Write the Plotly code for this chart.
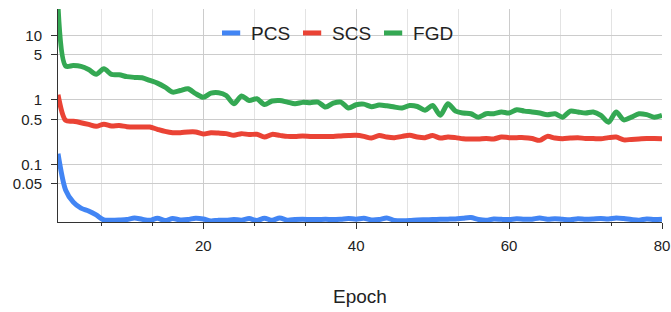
import plotly.graph_objects as go

epochs = list(range(1, 81))

pcs = [0.147, 0.040, 0.026, 0.021, 0.019, 0.0165, 0.0138, 0.0137, 0.0138, 0.0140,
       0.0148, 0.0141, 0.0136, 0.0147, 0.0135, 0.0145, 0.0138, 0.0140, 0.0147, 0.0143,
       0.0133, 0.0137, 0.0136, 0.0140, 0.0137, 0.0145, 0.0135, 0.0147, 0.0136, 0.0148,
       0.0137, 0.0140, 0.0141, 0.0140, 0.0140, 0.0141, 0.0140, 0.0142, 0.0145, 0.0142,
       0.0147, 0.0138, 0.0140, 0.0148, 0.0136, 0.0134, 0.0135, 0.0138, 0.0139, 0.0140,
       0.0141, 0.0142, 0.0143, 0.0147, 0.0150, 0.0140, 0.0136, 0.0143, 0.0141, 0.0140,
       0.0144, 0.0141, 0.0142, 0.0148, 0.0142, 0.0144, 0.0141, 0.0139, 0.0144, 0.0142,
       0.0143, 0.0145, 0.0143, 0.0148, 0.0145, 0.0140, 0.0137, 0.0143, 0.0140, 0.0141]

scs = [1.2, 0.48, 0.465, 0.443, 0.417, 0.39, 0.42, 0.393, 0.40, 0.385,
       0.38, 0.38, 0.38, 0.35, 0.325, 0.31, 0.31, 0.318, 0.318, 0.296,
       0.31, 0.306, 0.30, 0.282, 0.30, 0.29, 0.294, 0.266, 0.292, 0.282,
       0.272, 0.272, 0.276, 0.272, 0.27, 0.27, 0.272, 0.276, 0.28, 0.282,
       0.272, 0.256, 0.28, 0.266, 0.26, 0.272, 0.282, 0.266, 0.26, 0.28,
       0.256, 0.266, 0.26, 0.25, 0.248, 0.248, 0.252, 0.248, 0.266, 0.26,
       0.26, 0.26, 0.252, 0.236, 0.272, 0.256, 0.25, 0.256, 0.26, 0.252,
       0.252, 0.25, 0.26, 0.266, 0.24, 0.244, 0.248, 0.252, 0.252, 0.25]

fgd = [28.0, 3.35, 3.4, 3.3, 2.96, 2.5, 3.04, 2.48, 2.45, 2.29,
       2.23, 2.2, 2.0, 1.82, 1.58, 1.32, 1.40, 1.49, 1.25, 1.10,
       1.27, 1.29, 1.17, 0.87, 1.15, 0.98, 1.04, 0.85, 0.96, 0.98,
       0.925, 0.87, 0.915, 0.905, 0.925, 0.774, 0.89, 0.925, 0.746, 0.84,
       0.86, 0.785, 0.83, 0.81, 0.774, 0.746, 0.82, 0.79, 0.69, 0.82,
       0.58, 0.87, 0.67, 0.625, 0.61, 0.54, 0.61, 0.61, 0.65, 0.625,
       0.705, 0.67, 0.65, 0.625, 0.59, 0.61, 0.54, 0.67, 0.65, 0.625,
       0.65, 0.575, 0.45, 0.65, 0.49, 0.54, 0.61, 0.59, 0.54, 0.575]

series_names = ["PCS", "SCS", "FGD"]
series_values = [pcs, scs, fgd]
colors = ["#4285F4", "#EA4335", "#34A853"]

y_tickvals = [0.05, 0.1, 0.5, 1, 5, 10]
y_ticktext = ["0.05", "0.1", "0.5", "1", "5", "10"]

FONT = "Liberation Sans, Arial, sans-serif"
LW = 5

fig = go.Figure()
for name, vals, col in zip(series_names, series_values, colors):
    fig.add_trace(go.Scatter(
        x=epochs, y=vals, mode="lines", name=name, showlegend=False,
        line=dict(color=col, width=LW, shape="spline", smoothing=0.8),
        hoverinfo="x+y+name",
    ))
for name, col in zip(series_names, colors):
    fig.add_trace(go.Scatter(
        x=[None], y=[None], mode="markers", name=name, showlegend=True,
        marker=dict(symbol="line-ew", size=13, color=col,
                    line=dict(color=col, width=5)),
    ))

fig.update_layout(
    width=671, height=312,
    margin=dict(l=58, r=9, t=9, b=90),
    paper_bgcolor="white", plot_bgcolor="white",
    font=dict(family=FONT, size=15, color="#222222"),
    showlegend=True,
    legend=dict(
        orientation="h", x=0.2535, xanchor="left", y=0.976, yanchor="top",
        bgcolor="rgba(0,0,0,0)", font=dict(size=19, color="#222222"),
        entrywidth=36, entrywidthmode="pixels", itemclick=False,
    ),
    xaxis=dict(
        range=[1, 80], tick0=0, dtick=20, automargin=False,
        showgrid=True, gridcolor="#cccccc", gridwidth=1,
        showline=True, linecolor="#333333", linewidth=1,
        ticks="outside", ticklen=6, tickcolor="#333333",
        ticklabelstandoff=4,
        minor=dict(tick0=0, dtick=20/3, showgrid=True, gridcolor="#e3e3e3",
                   ticks="outside", ticklen=3, tickcolor="#333333"),
        zeroline=False,
        title=dict(text="Epoch", font=dict(size=19, color="#222222"), standoff=36),
        tickfont=dict(size=15, color="#222222"),
    ),
    yaxis=dict(
        type="log", range=[-1.892, 1.408], automargin=False,
        tickvals=y_tickvals, ticktext=y_ticktext,
        showgrid=True, gridcolor="#cccccc", gridwidth=1,
        showline=True, linecolor="#333333", linewidth=1,
        ticks="outside", ticklen=6, tickcolor="#333333",
        ticklabelstandoff=6,
        zeroline=False,
        tickfont=dict(size=15, color="#222222"),
    ),
    xaxis2=dict(
        overlaying="x", matches="x", anchor="y", side="bottom", automargin=False,
        tick0=0, dtick=20, ticks="inside", ticklen=6, tickcolor="#333333",
        minor=dict(tick0=0, dtick=20/3, ticks="inside", ticklen=3,
                   tickcolor="#333333", showgrid=False),
        showgrid=False, showline=False, showticklabels=False, zeroline=False,
    ),
    yaxis2=dict(
        overlaying="y", matches="y", anchor="x", side="left", type="log", automargin=False,
        tickvals=y_tickvals, ticks="inside", ticklen=6, tickcolor="#333333",
        showgrid=False, showline=False, showticklabels=False, zeroline=False,
    ),
)

fig.write_html(
    "out.html",
    config={"displayModeBar": False},
    post_script="document.body.style.margin='0';document.body.style.overflow='hidden';",
)
